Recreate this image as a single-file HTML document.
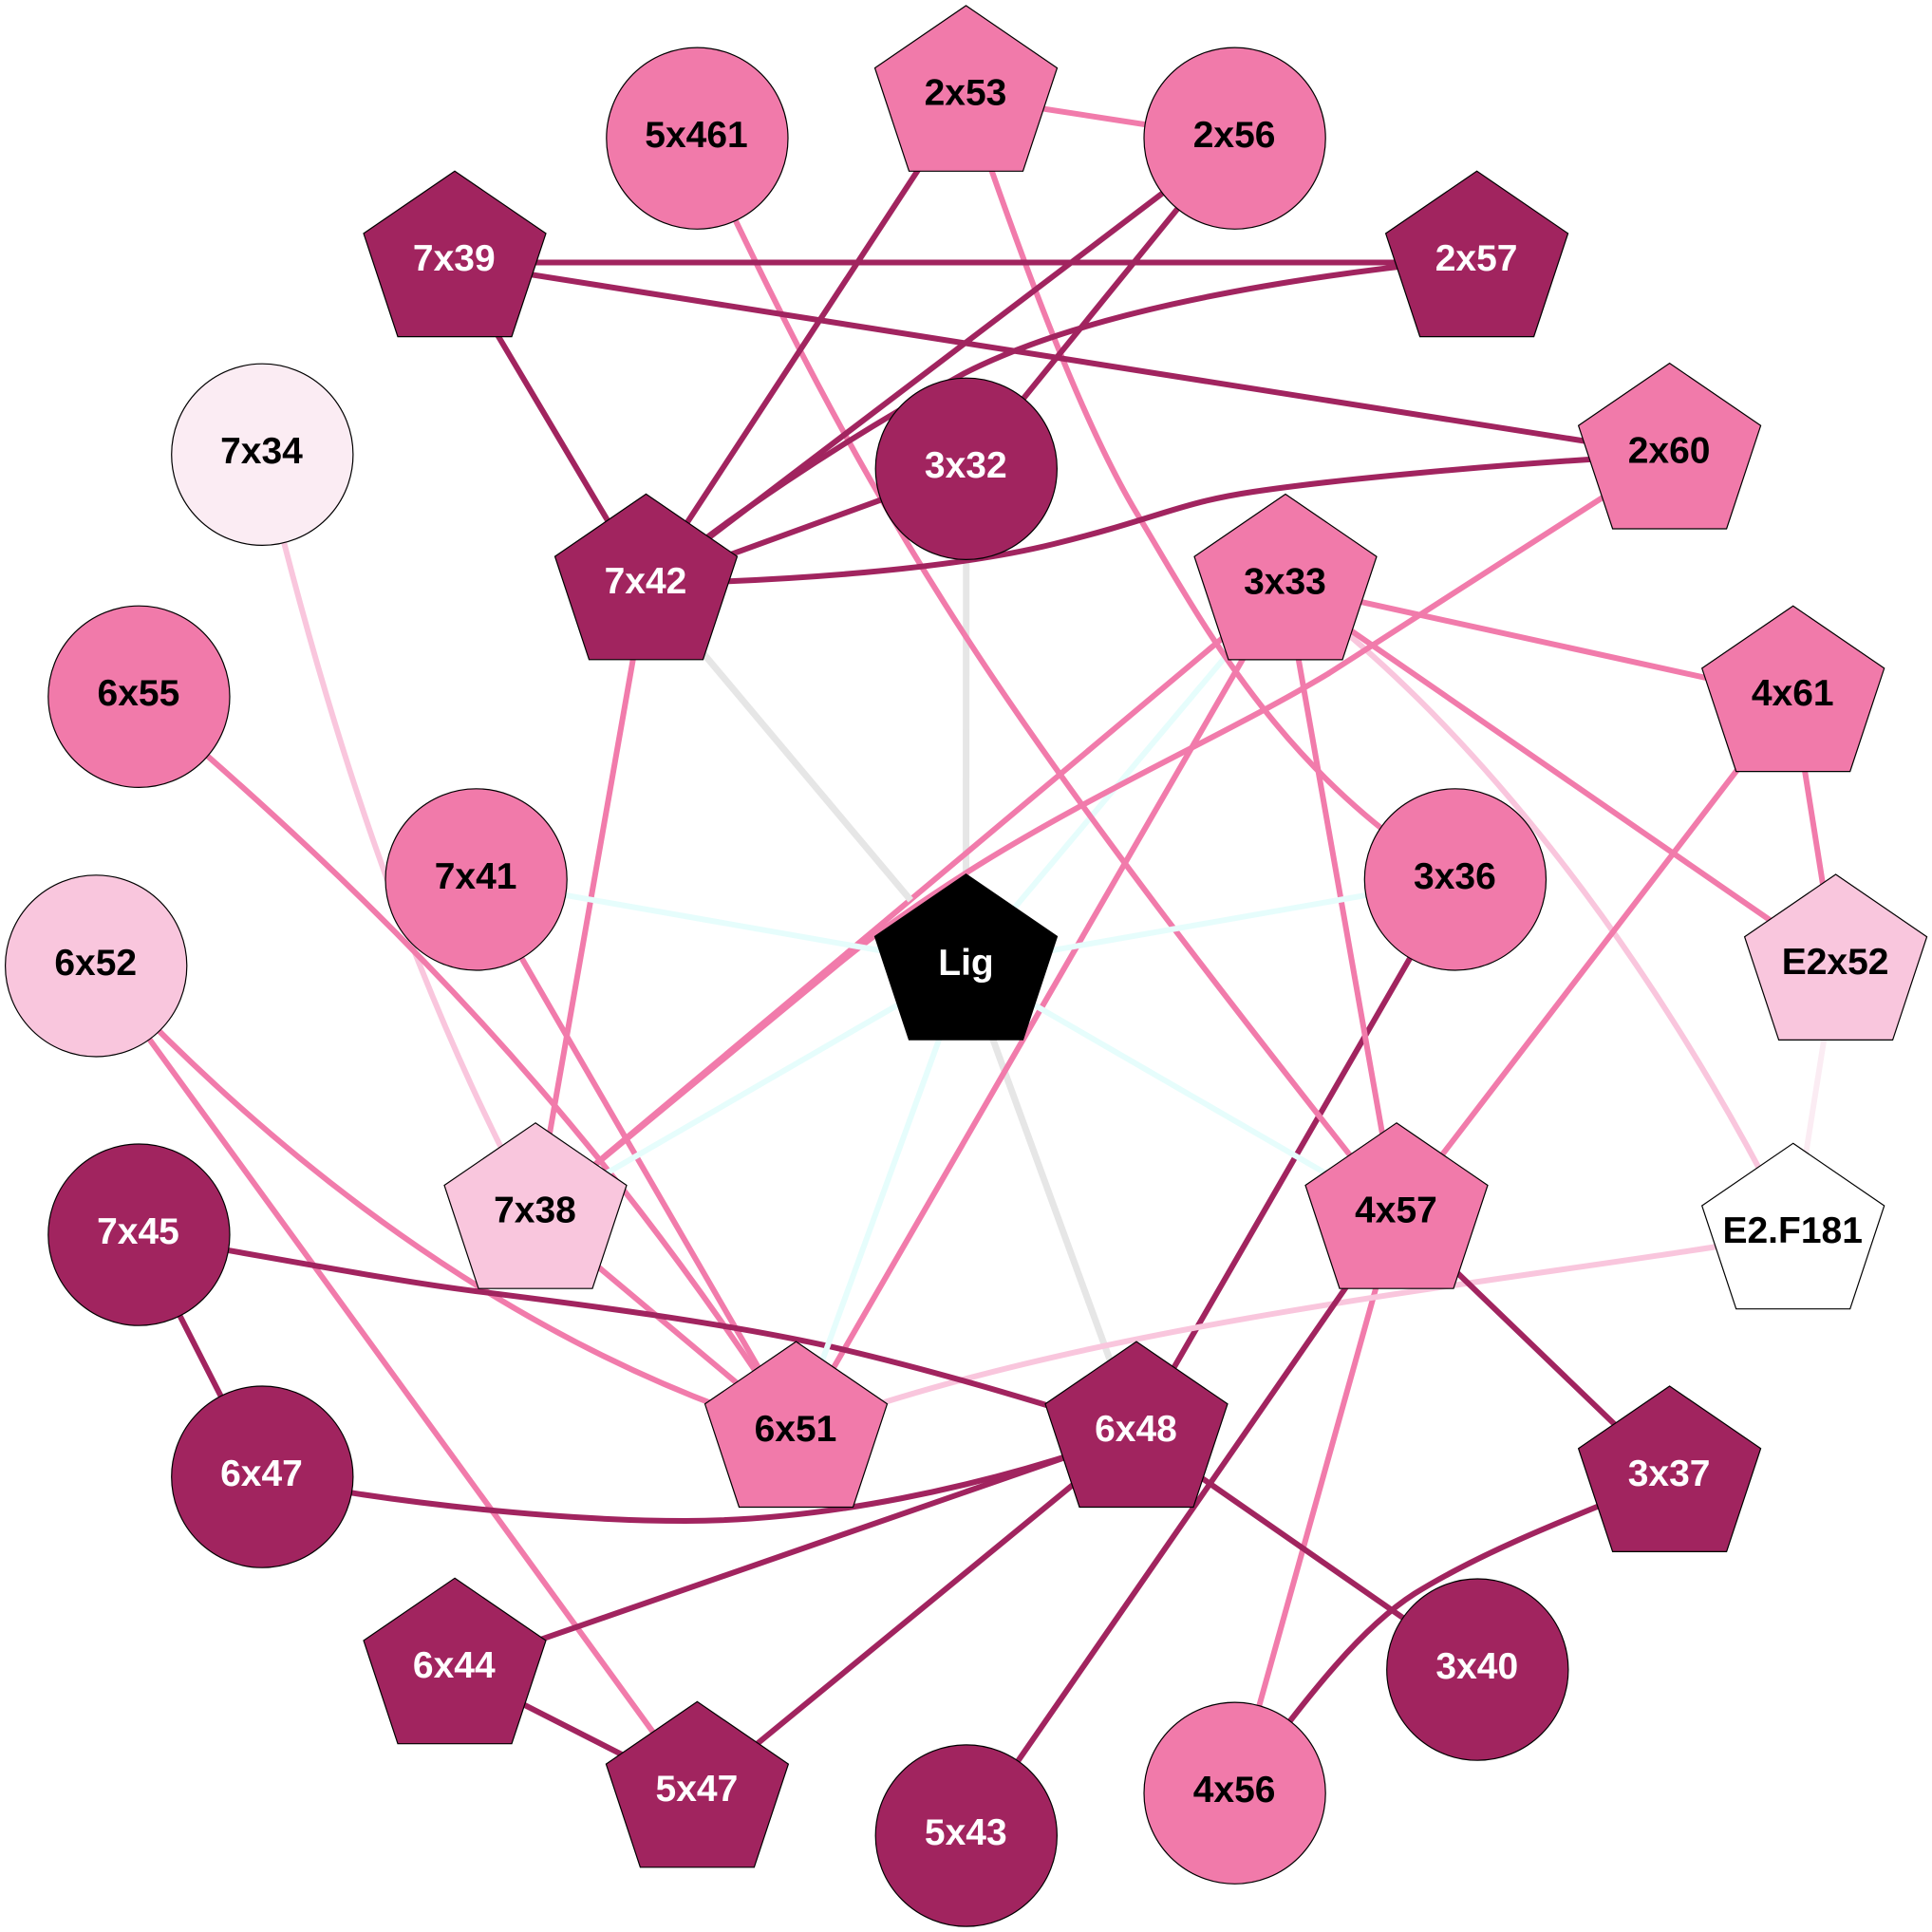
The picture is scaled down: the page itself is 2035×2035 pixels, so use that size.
<!DOCTYPE html>
<html><head><meta charset="utf-8"><style>
html,body{margin:0;padding:0;background:#fff;width:2035px;height:2035px;overflow:hidden}
svg{display:block}
.e{fill:none;stroke-width:6}
.d{stroke:#A1245F}.p{stroke:#F17BAB}.l{stroke:#F9C6DD}.v{stroke:#FBECF3}
.g{stroke:#E6E6E6;stroke-width:7}.c{stroke:#E6FDFC}
text{font-family:"Liberation Sans",Arial,sans-serif;font-weight:bold;font-size:39px;text-anchor:middle}
.n{stroke:#000;stroke-width:1.2}
.D{fill:#A1245F}.P{fill:#F17AAA}.L{fill:#F9C6DD}.V{fill:#FBECF3}.W{fill:#fff}.B{fill:#000}
.tw{fill:#fff}.tb{fill:#000}
</style></head><body>
<svg width="2035" height="2035" viewBox="0 0 2035 2035" xmlns="http://www.w3.org/2000/svg">
<g class="e">
<!-- lower layer -->
<path class="g" d="M1017.8 493.8L1017.5 1017"/>
<path class="g" d="M1197 1509L1017.5 1017"/>
<path class="c" d="M1017.5 1017L1354 616.5"/>
<path class="d" d="M1532.9 926.4L1197 1509"/>
<!-- light -->
<path class="l" d="M276 478.8C340 745 425 1020 564 1279"/>
<path class="l" d="M1354 616.5C1540 750 1740 1000 1888.7 1300"/>
<path class="v" d="M1933.6 1017L1888.7 1300"/>
<!-- pink -->
<path class="p" d="M1017.5 102L1300.6 145.7"/>
<path class="p" d="M1017.5 102C1060 225 1130 428 1197 540C1258 640 1345 815 1532.9 926.4"/>
<path class="p" d="M734 146C815 320 900 490 1015 667C1130 845 1290 1050 1471 1279"/>
<path class="p" d="M680.5 616.5L564 1279"/>
<path class="p" d="M1354 616.5L564 1279"/>
<path class="g" d="M680.5 616.5L959.3 948.3"/>
<path class="p" d="M1758.6 478.7L1400 709C1290 775 1150 835 1016.7 920C965 953 920 985 880 1018C780 1100 680 1183 564 1279"/>
<path class="p" d="M1354 616.5L1888.7 734.2"/>
<path class="p" d="M1354 616.5L1933.6 1017"/>
<path class="p" d="M1354 616.5L838.5 1509"/>
<path class="p" d="M1354 616.5L1471 1279"/>
<path class="p" d="M1888.7 734.2L1933.6 1017"/>
<path class="p" d="M1888.7 734.2L1471 1279"/>
<path class="p" d="M146.4 733.8C400 950 620 1170 838.5 1509"/>
<path class="p" d="M501.6 926.4L838.5 1509"/>
<path class="p" d="M101.2 1017.4C280 1210 530 1415 838.5 1509"/>
<path class="p" d="M101.2 1017.4L734.4 1888.5"/>
<path class="p" d="M564 1279L838.5 1509"/>
<path class="p" d="M1471 1279L1300.6 1888.7"/>
<path class="l" d="M1888.7 1300C1600 1350 1150 1390 838.5 1509"/>
<!-- dark -->
<path class="d" d="M478.8 276.5L1555.6 276.5"/>
<path class="d" d="M478.8 276.5L1758.6 478.7"/>
<path class="d" d="M478.8 276.5L680.5 616.5"/>
<path class="d" d="M680.5 616.5L1017.5 102"/>
<path class="d" d="M680.5 616.5L1300.6 145.7"/>
<path class="d" d="M680.5 616.5C760 550 880 468 1015 393.6C1125 337 1310 296 1555.6 272"/>
<path class="d" d="M680.5 616.5L1017.8 493.8"/>
<path class="d" d="M680 615C830 612 1000 600 1110 573S1240 530 1320 518S1560 490 1758.6 478.7"/>
<path class="d" d="M1300.6 145.7L1017.8 493.8"/>
<path class="d" d="M146 1300.6C300 1327 420 1350 501 1360C620 1375 760 1393 875 1418.4C990 1445 1090 1476 1197 1509"/>
<path class="d" d="M276 1555.6C420 1585 600 1602 722 1602C860 1602 1030 1570 1197 1509"/>
<path class="d" d="M478.8 1758.4L1197 1509"/>
<path class="d" d="M734.4 1888.5L1197 1509"/>
<path class="d" d="M1197 1509L1556.3 1758.6"/>
<path class="d" d="M146 1300.6L276 1555.6"/>
<path class="d" d="M478.8 1758.4L734.4 1888.5"/>
<path class="d" d="M1471 1279L1017.8 1933.5"/>
<path class="d" d="M1471 1279L1758.6 1556"/>
<path class="d" d="M1758.6 1556C1650 1600 1560 1635 1490 1678.6C1425 1720 1365 1805 1300.6 1888.7"/>
<!-- cyan -->
<path class="c" d="M1017.5 1017L501.6 926.4"/>
<path class="c" d="M1017.5 1017L1532.9 926.4"/>
<path class="c" d="M1017.5 1017L564 1279"/>
<path class="c" d="M1017.5 1017L838.5 1509"/>
<path class="c" d="M1017.5 1017L1471 1279"/>
</g>
<!-- circles -->
<g class="n">
<circle class="P" cx="734.4" cy="145.7" r="95.6"/>
<circle class="P" cx="1300.6" cy="145.7" r="95.6"/>
<circle class="D" cx="1017.8" cy="493.8" r="95.6"/>
<circle class="V" cx="276.3" cy="478.8" r="95.6"/>
<circle class="P" cx="146.4" cy="733.8" r="95.6"/>
<circle class="P" cx="501.6" cy="926.4" r="95.6"/>
<circle class="P" cx="1532.9" cy="926.4" r="95.6"/>
<circle class="L" cx="101.2" cy="1017.4" r="95.6"/>
<circle class="D" cx="146.4" cy="1300.6" r="95.6"/>
<circle class="D" cx="276.3" cy="1555.6" r="95.6"/>
<circle class="D" cx="1017.8" cy="1933.5" r="95.6"/>
<circle class="P" cx="1300.6" cy="1888.7" r="95.6"/>
<circle class="D" cx="1556.3" cy="1758.6" r="95.6"/>
<!-- pentagons -->
<polygon class="B" points="1017.5,920.7 1113.5,986.4 1077.5,1095.1 957.5,1095.1 921.5,986.4"/>
<polygon class="D" points="479,180.2 575,245.9 539,354.6 419,354.6 383,245.9"/>
<polygon class="D" points="680.5,520.4 776.5,586.1 740.5,694.8 620.5,694.8 584.5,586.1"/>
<polygon class="P" points="1017.5,5.9 1113.5,71.6 1077.5,180.3 957.5,180.3 921.5,71.6"/>
<polygon class="D" points="1555.6,180.2 1651.6,245.9 1615.6,354.6 1495.6,354.6 1459.6,245.9"/>
<polygon class="P" points="1758.6,382.6 1854.6,448.3 1818.6,557 1698.6,557 1662.6,448.3"/>
<polygon class="P" points="1354,520.5 1450,586.2 1414,694.9 1294,694.9 1258,586.2"/>
<polygon class="P" points="1888.7,638.2 1984.7,703.9 1948.7,812.6 1828.7,812.6 1792.7,703.9"/>
<polygon class="L" points="1933.6,921 2029.6,986.7 1993.6,1095.4 1873.6,1095.4 1837.6,986.7"/>
<polygon class="L" points="564,1182.8 660,1248.5 624,1357.2 504,1357.2 468,1248.5"/>
<polygon class="P" points="838.5,1413.1 934.5,1478.8 898.5,1587.5 778.5,1587.5 742.5,1478.8"/>
<polygon class="D" points="479,1662.3 575,1728 539,1836.7 419,1836.7 383,1728"/>
<polygon class="D" points="734.4,1792.4 830.4,1858.1 794.4,1966.8 674.4,1966.8 638.4,1858.1"/>
<polygon class="P" points="1471,1182.8 1567,1248.5 1531,1357.2 1411,1357.2 1375,1248.5"/>
<polygon class="W" points="1888.7,1204.3 1984.7,1270 1948.7,1378.7 1828.7,1378.7 1792.7,1270"/>
<polygon class="D" points="1197,1413.1 1293,1478.8 1257,1587.5 1137,1587.5 1101,1478.8"/>
<polygon class="D" points="1758.6,1460 1854.6,1525.7 1818.6,1634.4 1698.6,1634.4 1662.6,1525.7"/>
</g>
<!-- labels -->
<g transform="translate(-0.5,-1.2)">
<text class="tb" x="734" y="156.3">5x461</text>
<text class="tb" x="1300.6" y="156.3">2x56</text>
<text class="tw" x="1017.8" y="504.4">3x32</text>
<text class="tb" x="276" y="489.4">7x34</text>
<text class="tb" x="146.4" y="744.4">6x55</text>
<text class="tb" x="501.6" y="937">7x41</text>
<text class="tb" x="1532.9" y="937">3x36</text>
<text class="tb" x="101.2" y="1028">6x52</text>
<text class="tw" x="146" y="1311.2">7x45</text>
<text class="tw" x="276" y="1566.2">6x47</text>
<text class="tw" x="1017.8" y="1944.1">5x43</text>
<text class="tb" x="1300.6" y="1899.3">4x56</text>
<text class="tw" x="1556.3" y="1769.2">3x40</text>
<text class="tw" x="1018" y="1028.2">Lig</text>
<text class="tw" x="478.8" y="286.2">7x39</text>
<text class="tw" x="680.5" y="626.4">7x42</text>
<text class="tb" x="1017.5" y="111.9">2x53</text>
<text class="tw" x="1555.6" y="286.2">2x57</text>
<text class="tb" x="1758.6" y="488.6">2x60</text>
<text class="tb" x="1354" y="626.5">3x33</text>
<text class="tb" x="1888.7" y="744.2">4x61</text>
<text class="tb" x="1933.6" y="1027">E2x52</text>
<text class="tb" x="564" y="1288.8">7x38</text>
<text class="tb" x="838.5" y="1519.1">6x51</text>
<text class="tw" x="478.8" y="1768.3">6x44</text>
<text class="tw" x="734.4" y="1898.4">5x47</text>
<text class="tb" x="1471" y="1288.8">4x57</text>
<text class="tb" x="1888.7" y="1310.3">E2.F181</text>
<text class="tw" x="1197" y="1519.1">6x48</text>
<text class="tw" x="1758.6" y="1566">3x37</text>
</g>
</svg>
</body></html>
